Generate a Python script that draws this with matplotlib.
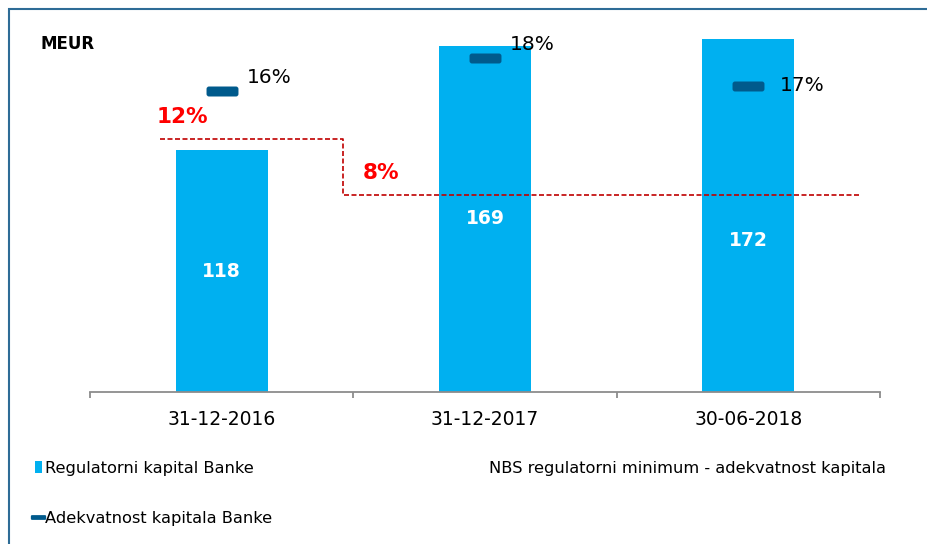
import numpy as np
import matplotlib
matplotlib.use("Agg")
import matplotlib.pyplot as plt
from matplotlib.lines import Line2D
from matplotlib.patches import Patch, Rectangle, FancyBboxPatch
from matplotlib.markers import MarkerStyle

# data
categories = ["31-12-2016", "31-12-2017", "30-06-2018"]
kapital = [118, 169, 172]           # Regulatorni kapital Banke, MEUR
adekvatnost = [16.3, 18.1, 16.6]    # Adekvatnost kapitala Banke, %
nbs_minimum = [12, 8, 8]            # NBS regulatorni minimum, %

# colours
bar_color = "#00B0F0"
marker_color = "#005A8C"
line_color = "#C00000"
label_red = "#FF0000"
frame_color = "#2E6C96"

plt.rcParams["font.family"] = ["DejaVu Sans"]

fig = plt.figure(figsize=(9.28, 5.44), dpi=100)
ax = fig.add_axes([90 / 928, 1 - 392 / 544, 790 / 928, 369 / 544])
ax2 = ax.twinx()
ax3 = ax.twinx()

x = np.arange(len(categories))

# bars
ax.bar(x, kapital, width=0.35, color=bar_color, zorder=2)
label_frac = [0.5, 0.5, 0.43]
for xi, v, f in zip(x, kapital, label_frac):
    ax.text(xi, v * f, f"{v}", ha="center", va="center", color="white",
            fontsize=13.5, fontweight="bold", zorder=3)

ax.set_xlim(-0.5, len(categories) - 0.5)
ax.set_ylim(0, 180)

# rounded-rectangle dash marker
box = FancyBboxPatch((-1.6, -0.5), 3.2, 1.0, boxstyle="round,pad=0,rounding_size=0.25")
dash = MarkerStyle(box.get_path())

# capital adequacy markers
ax2.plot(x, adekvatnost, linestyle="none", marker=dash, markersize=23,
         markeredgewidth=0, color=marker_color, zorder=4)
ax2.set_ylim(0, 20)
lbl_off = [(25, 14), (25, 14), (31, 0)]
for xi, v, off in zip(x, adekvatnost, lbl_off):
    ax2.annotate(f"{v:.0f}%", (xi, v), xytext=off, textcoords="offset pixels",
                 ha="left", va="center", fontsize=14.5, color="black")

# NBS regulatory minimum as a step line
left_ext, right_ext, step_at = 0.235, 0.42, 0.54
step_x = [x[0] - left_ext]
step_y = [nbs_minimum[0]]
for i in range(1, len(x)):
    if nbs_minimum[i] != nbs_minimum[i - 1]:
        step_x += [x[i] - step_at, x[i] - step_at]
        step_y += [nbs_minimum[i - 1], nbs_minimum[i]]
step_x.append(x[-1] + right_ext)
step_y.append(nbs_minimum[-1])
ax3.plot(step_x, step_y, color=line_color, linestyle=(0, (3, 1.5)), linewidth=1.2, zorder=3)
ax3.set_ylim(-6.07, 20.29)
red_lbl_x = [-0.15, 1 - 0.395]
for (xl, v) in zip(red_lbl_x, [nbs_minimum[0], nbs_minimum[1]]):
    ax3.annotate(f"{v}%", (xl, v), xytext=(0, 22), textcoords="offset pixels",
                 ha="center", va="center", fontsize=15.5, fontweight="bold", color=label_red)

# axes styling
for a in (ax, ax2, ax3):
    for s in ["top", "right", "left"]:
        a.spines[s].set_visible(False)
    a.set_yticks([])
ax2.spines["bottom"].set_visible(False)
ax3.spines["bottom"].set_visible(False)
ax.spines["bottom"].set_color("#8C8C8C")
ax.spines["bottom"].set_linewidth(1.3)
ax.set_xticks(x)
ax.set_xticklabels(categories, fontsize=13.5)
ax.tick_params(axis="x", which="major", length=0, pad=13)
ax.set_xticks(np.arange(len(categories) + 1) - 0.5, minor=True)
ax.tick_params(axis="x", which="minor", length=4.5, width=1.3, color="#8C8C8C")

fig.text(40 / 928, 1 - 44 / 544, "MEUR", fontsize=12, fontweight="bold", va="center")

# legend
handles = [
    Patch(facecolor=bar_color, edgecolor="none"),
    Line2D([], [], linestyle="none", marker=dash, markersize=11, markeredgewidth=0,
           color=marker_color),
    Line2D([], [], color="none"),
]
labels = ["Regulatorni kapital Banke", "Adekvatnost kapitala Banke",
          "NBS regulatorni minimum - adekvatnost kapitala"]
fig.legend(handles, labels, loc="upper left", bbox_to_anchor=(20 / 928, 1 - 446 / 544),
           ncol=2, frameon=False, fontsize=11.7, handlelength=0.45, handleheight=0.75,
           handletextpad=0.2, columnspacing=12.7, labelspacing=2.15)

# outer frame
fig.add_artist(Rectangle((9 / 928, -0.05), 1.2, 1 - 9 / 544 + 0.05, transform=fig.transFigure,
                         fill=False, edgecolor=frame_color, linewidth=1.5))

fig.savefig("out.png", dpi=100)
